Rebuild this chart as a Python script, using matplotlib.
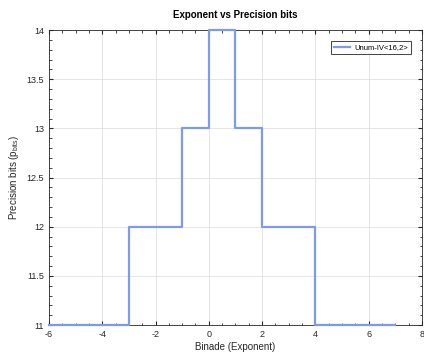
import matplotlib
matplotlib.use("Agg")
import matplotlib.pyplot as plt
from matplotlib.ticker import MultipleLocator

# binade exponent vs precision bits (stairs)
exponents = [-6, -5, -4, -3, -2, -1, 0, 1, 2, 3, 4, 5, 6, 7]
precision = [11, 11, 11, 12, 12, 13, 14, 13, 12, 12, 11, 11, 11, 11]
series_label = "Unum-IV<16,2>"

plt.rcParams['font.family'] = ['Liberation Sans', 'DejaVu Sans']
plt.rcParams['mathtext.fontset'] = 'custom'
plt.rcParams['mathtext.rm'] = 'Liberation Sans'
plt.rcParams['mathtext.it'] = 'Liberation Sans'
plt.rcParams['axes.unicode_minus'] = False

fig = plt.figure(figsize=(4.24, 3.53), dpi=100)
ax = fig.add_axes([0.1156, 0.0793, 0.8794, 0.8357])

ax.plot(exponents, precision, drawstyle='steps-post', color='#7f9ae6',
        linewidth=1.6, label=series_label, clip_on=False, zorder=3)

ax.set_xlim(-6, 8)
ax.set_ylim(11, 14)
ax.xaxis.set_major_locator(MultipleLocator(2))
ax.xaxis.set_minor_locator(MultipleLocator(0.5))
ax.yaxis.set_major_locator(MultipleLocator(0.5))
ax.yaxis.set_minor_locator(MultipleLocator(0.1))
ax.set_yticklabels([f"{v:g}" for v in ax.get_yticks()])
ax.tick_params(which='both', direction='in', top=True, right=True,
               labelsize=6.5, colors='#262626')
ax.tick_params(which='major', length=3)
ax.tick_params(which='minor', length=1.8)
ax.grid(True, which='major', color='#e0e0e0', linewidth=0.6)
ax.set_axisbelow(True)
for s in ax.spines.values():
    s.set_color('#262626')
    s.set_linewidth(0.6)

ax.set_xlabel("Binade (Exponent)", fontsize=7, color='#262626', labelpad=2)
ax.set_ylabel("Precision bits (p$_{bits}$)", fontsize=7, color='#262626', labelpad=4)
ax.set_title("Exponent vs Precision bits", fontsize=7, fontweight='bold', pad=9)

leg = ax.legend(loc='upper right', fontsize=5.5, fancybox=False, framealpha=1,
                edgecolor='#262626', handlelength=2.2, handletextpad=0.5,
                borderpad=0.35, bbox_to_anchor=(0.98, 0.975))
leg.get_frame().set_linewidth(0.6)

fig.savefig("out.png", dpi=100)
